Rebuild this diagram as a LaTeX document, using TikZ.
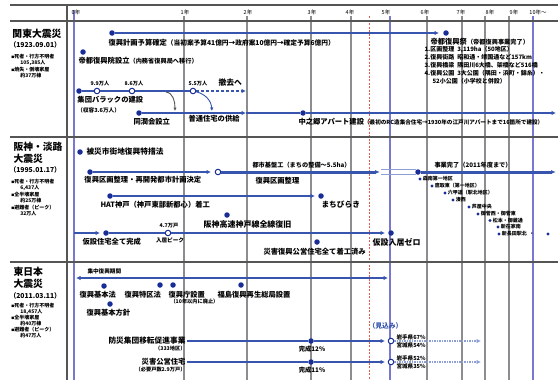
\documentclass[tikz,border=0pt]{standalone}
\usepackage{fontspec}
\setmainfont{Noto Sans CJK JP}
\usetikzlibrary{arrows.meta}
\definecolor{rowblue}{RGB}{55,85,175}
\definecolor{dotblue}{RGB}{25,45,150}
\definecolor{gridgray}{RGB}{140,140,145}
\definecolor{gridblue}{RGB}{120,120,210}
\definecolor{sepgray}{RGB}{85,85,85}
\definecolor{reddash}{RGB}{230,90,80}
\definecolor{lightrow}{RGB}{140,160,215}
\newcommand\jfs[1]{\fontsize{#1}{#1}\selectfont}
\tikzset{
  gl/.style={draw=gridgray,line width=1.2pt},
  glb/.style={draw=gridblue,line width=1.2pt},
  sepl/.style={draw=sepgray,line width=1.5pt},
  rowl/.style={draw=rowblue,line width=1.5pt},
  arw/.style={-{Latex[length=4.5pt,width=4.5pt]}},
  dotn/.style={circle,fill=dotblue,inner sep=0pt,minimum size=5.5pt},
  odotn/.style={circle,draw=dotblue,fill=white,line width=1pt,inner sep=0pt,minimum size=5.5pt},
  sdotn/.style={circle,fill=dotblue,inner sep=0pt,minimum size=3.2pt},
  lb/.style={inner sep=0.3pt,font=\jfs{7.3}\bfseries},
  ls/.style={inner sep=0.3pt,font=\jfs{5.6}\bfseries},
  lt/.style={inner sep=0.2pt,font=\jfs{5}\bfseries},
  ttl/.style={inner sep=0.3pt,font=\jfs{9.8}\bfseries},
  hd/.style={inner sep=0.3pt,font=\jfs{5.5}},
}
\begin{document}
\begin{tikzpicture}[x=1pt,y=-1pt]
\path[use as bounding box,fill=white] (0,0) rectangle (558,380);
% grid
\foreach \gx in {184,247,311,351,427,462,485,509}{\draw[gl] (\gx,16) -- (\gx,380);}
\draw[glb] (74,10) -- (74,380);
\draw[glb] (390,16) -- (390,380);
\draw[glb] (533,16) -- (533,380);
\draw[draw=reddash,line width=1pt,dash pattern=on 2pt off 1.5pt] (369,16) -- (369,380);
% frame
\draw[sepl] (10,5) -- (558,5);
\draw[sepl] (10,21) -- (558,21);
\draw[sepl] (10,137) -- (558,137);
\draw[sepl] (10,262) -- (558,262);
\draw[sepl] (67,5) -- (67,380);
% header
\node[hd] (y0) at (76,12) {0年};
\node[hd] (y1) at (185,12) {1年};
\node[hd] (y2) at (248,12) {2年};
\node[hd] (y3) at (312,12) {3年};
\node[hd] (y4) at (350,12) {4年};
\node[hd] (y5) at (386,12) {5年};
\node[hd] (y6) at (425,12) {6年};
\node[hd] (y7) at (461,12) {7年};
\node[hd] (y8) at (490,12) {8年};
\node[hd] (y9) at (514,12) {9年};
\node[hd] (y10) at (538,12) {10年～};

% ===== Kanto =====
\node[ttl,anchor=west] (kT) at (12,34) {関東大震災};
\node[ls,anchor=west,font=\jfs{6.8}\bfseries] (kD) at (9,45) {（1923.09.01）};
\node[lt,anchor=west] (kS1) at (11,57) {{\jfs{3}■}死者・行方不明者};
\node[lt,anchor=west] (kS2) at (20,62.5) {105,385人};
\node[lt,anchor=west] (kS3) at (11,70) {{\jfs{3}■}焼失・倒壊家屋};
\node[lt,anchor=west] (kS4) at (20,75.5) {約37万棟};

\node[dotn] (k1a) at (112,33) {};
\coordinate (k1e) at (439,33);
\node[dotn] (k1b) at (446,33) {};
\draw[rowl,line width=1.8pt,arw] (k1a) -- (k1e);
\node[lb,anchor=west] (k1t) at (108,43) {復興計画予算確定{\jfs{6.7}（当初案予算41億円→政府案10億円→確定予算6億円）}};
\node[lb,anchor=west] (k1t2) at (430,42) {帝都復興祭{\jfs{6.2}（帝都復興事業完了）}};
\node[ls,anchor=west,font=\jfs{6}\bfseries] (kl1) at (424,49.5) {1.区画整理\enspace 3,119ha（50地区）};
\node[ls,anchor=west,font=\jfs{6}\bfseries] (kl2) at (424,57.5) {2.復興街路\enspace 昭和通・靖国通など157km};
\node[ls,anchor=west,font=\jfs{6}\bfseries] (kl3) at (424,65.5) {3.復興橋梁\enspace 隅田川6大橋、架橋など516橋};
\node[ls,anchor=west,font=\jfs{6}\bfseries] (kl4) at (424,73.5) {4.復興公園\enspace 3大公園（隅田・浜町・錦糸）・};
\node[ls,anchor=west,font=\jfs{6}\bfseries] (kl5) at (432,81.5) {52小公園（小学校と併設）};

\node[dotn] (k2a) at (83,52) {};
\node[lb,anchor=west] (k2t) at (78,61) {帝都復興院設立{\jfs{6.2}（内務省復興局へ移行）}};

\node[dotn] (k3a) at (79,91) {};
\node[odotn] (k3b) at (97,91) {};
\node[odotn] (k3c) at (132,91) {};
\node[odotn] (k3d) at (193,91) {};
\coordinate (k3e) at (246,91);
\draw[rowl] (k3a) -- (k3b) -- (k3c) -- (k3d);
\draw[rowl,dash pattern=on 3pt off 2pt,arw] (k3d) -- (k3e);
\node[ls,font=\jfs{5.2}\bfseries] (k3l1) at (100,84) {9.9万人};
\node[ls,font=\jfs{5.2}\bfseries] (k3l2) at (134,84) {8.6万人};
\node[ls,font=\jfs{5.2}\bfseries] (k3l3) at (198,84) {5.5万人};
\node[lb,anchor=west,font=\jfs{7.8}\bfseries] (k3l4) at (218,83) {撤去へ};
\node[lb,anchor=west] (k3t1) at (77,100) {集団バラックの建設};
\node[ls,anchor=west] (k3t2) at (77,110) {（収容3.6万人）};
\coordinate (k3m) at (166,92);
\coordinate (k4m) at (175,111);
\draw[draw=sepgray,line width=0.9pt,-{Latex[length=3.5pt,width=3.5pt]}] (k3m) .. controls (173,93) and (175,101) .. (k4m);
\coordinate (k4n) at (212,111);
\draw[draw=rowblue,line width=0.9pt,-{Latex[length=3.5pt,width=3.5pt]}] (k3d) .. controls (205,94) and (211,100) .. (k4n);

\node[dotn] (k4a) at (139,113) {};
\coordinate (k4b) at (246,113);
\node[dotn] (k4c) at (303,113) {};
\coordinate (k4d) at (556,113);
\draw[rowl,arw] (k4a) -- (k4b);
\draw[rowl] (k4b) -- (k4c);
\draw[rowl,arw] (k4c) -- (k4d);
\node[lb,anchor=west] (k4t1) at (133,122) {同潤会設立};
\node[lb,anchor=west] (k4t2) at (188,118.5) {普通住宅の供給};
\node[lb,anchor=west] (k4t3) at (298,121.5) {中之郷アパート建設{\jfs{5.6}（最初のRC造集合住宅→1930年の江戸川アパートまで16箇所で建設）}};

% ===== Hanshin =====
\node[ttl,anchor=west] (hT1) at (13,147) {阪神・淡路};
\node[ttl,anchor=west] (hT2) at (13,158.5) {大震災};
\node[ls,anchor=west,font=\jfs{6.8}\bfseries] (hD) at (9,170) {（1995.01.17）};
\node[lt,anchor=west] (hS1) at (11,182) {{\jfs{3}■}死者・行方不明者};
\node[lt,anchor=west] (hS2) at (20,187.5) {6,437人};
\node[lt,anchor=west] (hS3) at (11,195) {{\jfs{3}■}全半壊家屋};
\node[lt,anchor=west] (hS4) at (20,200.5) {約25万棟};
\node[lt,anchor=west] (hS5) at (11,208) {{\jfs{3}■}避難者（ピーク）};
\node[lt,anchor=west] (hS6) at (20,213.5) {32万人};

\node[dotn] (h1a) at (80,152) {};
\node[lb,anchor=west,font=\jfs{7.7}\bfseries] (h1t) at (86,152) {被災市街地復興特措法};

\node[dotn] (h2a) at (90,172) {};
\coordinate (h2e) at (211,172);
\node[odotn] (h2o) at (218,172) {};
\coordinate (h2f) at (380,172);
\node[dotn] (h2c) at (418,172) {};
\coordinate (h2g) at (556,172);
\draw[rowl,arw] (h2a) -- (h2e);
\draw[draw=rowblue,line width=3pt,-{Latex[length=5pt,width=4pt]}] (h2o) -- (h2f);
\draw[draw=lightrow,line width=0.6pt] (381,169.5) -- (416,169.5);
\draw[draw=lightrow,line width=0.6pt] (381,174.5) -- (416,174.5);
\draw[draw=rowblue,line width=3pt,-{Latex[length=5pt,width=4pt]}] (h2c) -- (h2g);
\node[lb,anchor=west] (h2t) at (84,180) {復興区画整理・再開発都市計画決定};
\node[ls,anchor=west,font=\jfs{6.2}\bfseries] (h2t2) at (252,165) {都市基盤工（まちの整備～5.5ha）};
\node[lb,anchor=west] (h2t3) at (255,180.5) {復興区画整理};
\node[ls,anchor=west,font=\jfs{6.2}\bfseries] (h2t4) at (434,165) {事業完了（2011年度まで）};

\node[sdotn] (c1) at (420,179) {};
\node[lt,anchor=west] (c1t) at (422.5,179) {森南第一地区};
\node[sdotn] (c2) at (432,186) {};
\node[lt,anchor=west] (c2t) at (434.5,186) {鷹取東（第一地区）};
\node[sdotn] (c3) at (445,193) {};
\node[lt,anchor=west] (c3t) at (447.5,193) {六甲道（駅北地区）};
\node[sdotn] (c4) at (453,200) {};
\node[lt,anchor=west] (c4t) at (455.5,200) {湊西};
\node[sdotn] (c5) at (469,207) {};
\node[lt,anchor=west] (c5t) at (471.5,207) {芦屋中央};
\node[sdotn] (c6) at (478,214) {};
\node[lt,anchor=west] (c6t) at (480.5,214) {御菅西・御菅東};
\node[sdotn] (c7) at (490,220.5) {};
\node[lt,anchor=west] (c7t) at (492.5,220.5) {松本・御蔵通};
\node[sdotn] (c8) at (498,227) {};
\node[lt,anchor=west] (c8t) at (500.5,227) {新在家南};
\node[sdotn] (c9) at (499,234) {};
\node[lt,anchor=west] (c9t) at (501.5,234) {新長田駅北\enspace ・};
\node[sdotn] (c10) at (548,234) {};

\node[dotn] (h3a) at (110,196) {};
\coordinate (h3e) at (315,196);
\node[dotn] (h3b) at (321,196) {};
\draw[rowl,arw] (h3a) -- (h3e);
\node[lb,anchor=west] (h3t) at (100,205) {HAT神戸（神戸東部新都心）着工};
\node[lb,anchor=west,font=\jfs{7.7}\bfseries] (h3t2) at (321,205) {まちびらき};

\node[dotn] (h4a) at (227,215) {};
\node[lb,anchor=west,font=\jfs{8}\bfseries] (h4t) at (203,224) {阪神高速神戸線全線復旧};

\coordinate (h5s) at (74,233);
\coordinate (h5e1) at (100,233);
\node[dotn] (h5a) at (106,233) {};
\node[odotn] (h5o) at (168,233) {};
\coordinate (h5e2) at (385,233);
\node[dotn] (h5b) at (391,233) {};
\draw[rowl,arw] (h5s) -- (h5e1);
\draw[rowl] (h5a) -- (h5o);
\draw[rowl,arw] (h5o) -- (h5e2);
\node[ls,font=\jfs{5.2}\bfseries] (h5l1) at (169,226) {4.7万戸};
\node[ls,font=\jfs{5.6}\bfseries] (h5l2) at (170,240.5) {入居ピーク};
\node[lb,anchor=west] (h5t) at (82,242) {仮設住宅全て完成};
\node[lb,anchor=west,font=\jfs{8}\bfseries] (h5t2) at (372,242) {仮設入居ゼロ};

\node[dotn] (h6a) at (317,242) {};
\node[lb,anchor=west] (h6t) at (263,251.5) {災害復興公営住宅全て着工済み};

% ===== Tohoku =====
\node[ttl,anchor=west] (tT1) at (13,272) {東日本};
\node[ttl,anchor=west] (tT2) at (13,284) {大震災};
\node[ls,anchor=west,font=\jfs{6.8}\bfseries] (tD) at (9,296) {（2011.03.11）};
\node[lt,anchor=west] (tS1) at (11,306) {{\jfs{3}■}死者・行方不明者};
\node[lt,anchor=west] (tS2) at (20,311.5) {18,457人};
\node[lt,anchor=west] (tS3) at (11,318) {{\jfs{3}■}全半壊家屋};
\node[lt,anchor=west] (tS4) at (20,323.5) {約40万棟};
\node[lt,anchor=west] (tS5) at (11,330) {{\jfs{3}■}避難者（ピーク）};
\node[lt,anchor=west] (tS6) at (20,335.5) {約47万人};

\coordinate (t1a) at (76,278);
\coordinate (t1b) at (388,278);
\draw[rowl,{Latex[length=4.5pt,width=4.5pt]}-{Latex[length=4.5pt,width=4.5pt]}] (t1a) -- (t1b);
\node[ls,anchor=west] (t1t) at (87,271.5) {集中復興期間};

\node[dotn] (t2a) at (104,286) {};
\node[dotn] (t2b) at (160,285) {};
\node[dotn] (t2c) at (173,285) {};
\node[dotn] (t2d) at (241,285) {};
\node[dotn] (t2e) at (110,304) {};
\node[lb,anchor=west] (t2at) at (79,295) {復興基本法};
\node[lb,anchor=west] (t2bt) at (124,295) {復興特区法};
\node[lb,anchor=west] (t2ct) at (168,295) {復興庁設置};
\node[ls,anchor=west,font=\jfs{5.2}\bfseries] (t2ct2) at (170,301.5) {（10年以内に廃止）};
\node[lb,anchor=west] (t2dt) at (217,295) {福島復興再生総局設置};
\node[lb,anchor=west] (t2et) at (86,313) {復興基本方針};

\node[lb,anchor=east,font=\jfs{7.7}\bfseries] (t3t) at (186,341) {防災集団移転促進事業};
\node[ls,anchor=east,font=\jfs{5.2}\bfseries] (t3t2) at (186,349) {（333地区）};
\coordinate (t3s) at (187,341);
\node[dotn] (t3a) at (311,341) {};
\coordinate (t3e) at (385,341);
\node[odotn] (t3o) at (391,341) {};
\coordinate (t3f) at (481,341);
\draw[rowl] (t3s) -- (t3a);
\draw[rowl,arw] (t3a) -- (t3e);
\draw[draw=lightrow,line width=1.3pt,dash pattern=on 1.5pt off 1pt,arw] (t3o) -- (t3f);
\node[lb,font=\jfs{6.3}\bfseries] (t3p) at (312,349.5) {完成12\%};
\node[ls,anchor=west] (t3i) at (396,337) {岩手県67\%};
\node[ls,anchor=west] (t3m) at (396,345) {宮城県54\%};
\node[lb,anchor=west,text=rowblue,font=\jfs{6.8}\bfseries] (t3k) at (368,326) {（見込み）};

\node[lb,anchor=east] (t4t) at (186,362) {災害公営住宅};
\node[ls,anchor=east,font=\jfs{5.2}\bfseries] (t4t2) at (186,370) {（必要戸数2.9万戸）};
\coordinate (t4s) at (187,362);
\node[dotn] (t4a) at (311,362) {};
\coordinate (t4e) at (385,362);
\node[odotn] (t4o) at (391,362) {};
\coordinate (t4f) at (481,362);
\draw[rowl] (t4s) -- (t4a);
\draw[rowl,arw] (t4a) -- (t4e);
\draw[draw=lightrow,line width=1.3pt,dash pattern=on 1.5pt off 1pt,arw] (t4o) -- (t4f);
\node[lb,font=\jfs{6.3}\bfseries] (t4p) at (312,370.5) {完成11\%};
\node[ls,anchor=west] (t4i) at (396,358) {岩手県52\%};
\node[ls,anchor=west] (t4m) at (396,366) {宮城県35\%};
\end{tikzpicture}
\end{document}
